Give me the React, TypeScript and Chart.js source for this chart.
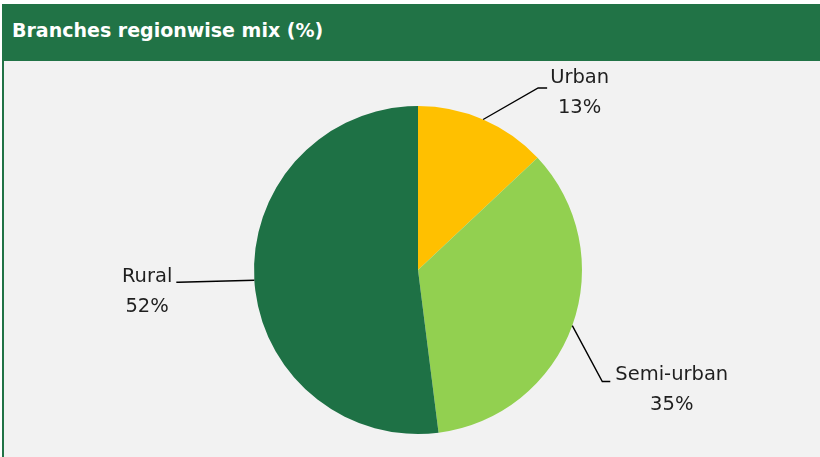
import React, { useEffect, useRef } from "react";
import { Chart, registerables } from "chart.js";

Chart.register(...registerables);

const TITLE = "Branches regionwise mix (%)";
const categories = ["Urban", "Semi-urban", "Rural"];
const shares = [13, 35, 52];
const sliceColors = ["#FFC000", "#92D050", "#1E7145"];

// leader line geometry (elbow offset from arc edge, horizontal tail length, side)
const leaderLayout = [
  { dx: 55, dy: -31.5, tail: 9, side: "right", gap: 3, lift: -10.5 },
  { dx: 30, dy: 56, tail: 8, side: "right", gap: 5, lift: -7 },
  { dx: -76, dy: 2, tail: 2, side: "left", gap: 4, lift: -5 },
];

const labelPlugin = {
  id: "leaderLabels",
  afterDatasetsDraw(chart: any) {
    const ctx = chart.ctx as CanvasRenderingContext2D;
    const meta = chart.getDatasetMeta(0);
    const values = chart.data.datasets[0].data as number[];
    const labels = chart.data.labels as string[];
    ctx.save();
    ctx.font = '19.5px "DejaVu Sans"';
    ctx.textBaseline = "middle";
    meta.data.forEach((arc: any, i: number) => {
      const p = arc.getProps(["x", "y", "startAngle", "endAngle", "outerRadius"], true);
      const mid = (p.startAngle + p.endAngle) / 2;
      const sx = p.x + Math.cos(mid) * p.outerRadius;
      const sy = p.y + Math.sin(mid) * p.outerRadius;
      const L = leaderLayout[i];
      const ex = sx + L.dx;
      const ey = sy + L.dy;
      const dir = L.side === "right" ? 1 : -1;
      const tx = ex + dir * L.tail;
      ctx.strokeStyle = "#000000";
      ctx.lineWidth = 1.4;
      ctx.beginPath();
      ctx.moveTo(sx, sy);
      ctx.lineTo(ex, ey);
      ctx.lineTo(tx, ey);
      ctx.stroke();
      const l1 = labels[i];
      const l2 = values[i] + "%";
      const w = Math.max(ctx.measureText(l1).width, ctx.measureText(l2).width);
      const cx = L.side === "right" ? tx + L.gap + w / 2 : tx - L.gap - w / 2;
      ctx.fillStyle = "#1f1f1f";
      ctx.textAlign = "center";
      ctx.fillText(l1, cx, ey + L.lift);
      ctx.fillText(l2, cx, ey + L.lift + 30);
    });
    ctx.restore();
  },
};

function PieChart() {
  const ref = useRef<HTMLCanvasElement | null>(null);
  useEffect(() => {
    if (!ref.current) return;
    const chart = new Chart(ref.current, {
      type: "pie",
      data: {
        labels: categories,
        datasets: [
          {
            data: shares,
            backgroundColor: sliceColors,
            borderWidth: 0,
          },
        ],
      },
      options: {
        responsive: false,
        animation: false,
        layout: { padding: { top: 45, bottom: 23, left: 12, right: 0 } },
        plugins: {
          legend: { display: false },
          tooltip: { enabled: false },
        },
      },
      plugins: [labelPlugin],
    });
    return () => chart.destroy();
  }, []);
  return <canvas ref={ref} width={816} height={396} style={{ display: "block", width: 816, height: 396 }} />;
}

export default function App() {
  return (
    <div style={{ position: "fixed", left: 0, top: 0, width: 820, height: 457, background: "#ffffff", overflow: "hidden" }}>
      <div
        style={{
          position: "absolute",
          left: 2,
          top: 4,
          width: 818,
          height: 57,
          background: "#217346",
          color: "#ffffff",
          fontFamily: '"DejaVu Sans", sans-serif',
          fontWeight: "bold",
          fontSize: 19,
          lineHeight: "52px",
          paddingLeft: 10,
          boxSizing: "border-box",
          whiteSpace: "nowrap",
        }}
      >
        {TITLE}
      </div>
      <div
        style={{
          position: "absolute",
          left: 2,
          top: 61,
          width: 818,
          height: 396,
          background: "#F2F2F2",
          borderLeft: "2px solid #217346",
          boxSizing: "border-box",
        }}
      >
        <PieChart />
      </div>
    </div>
  );
}
